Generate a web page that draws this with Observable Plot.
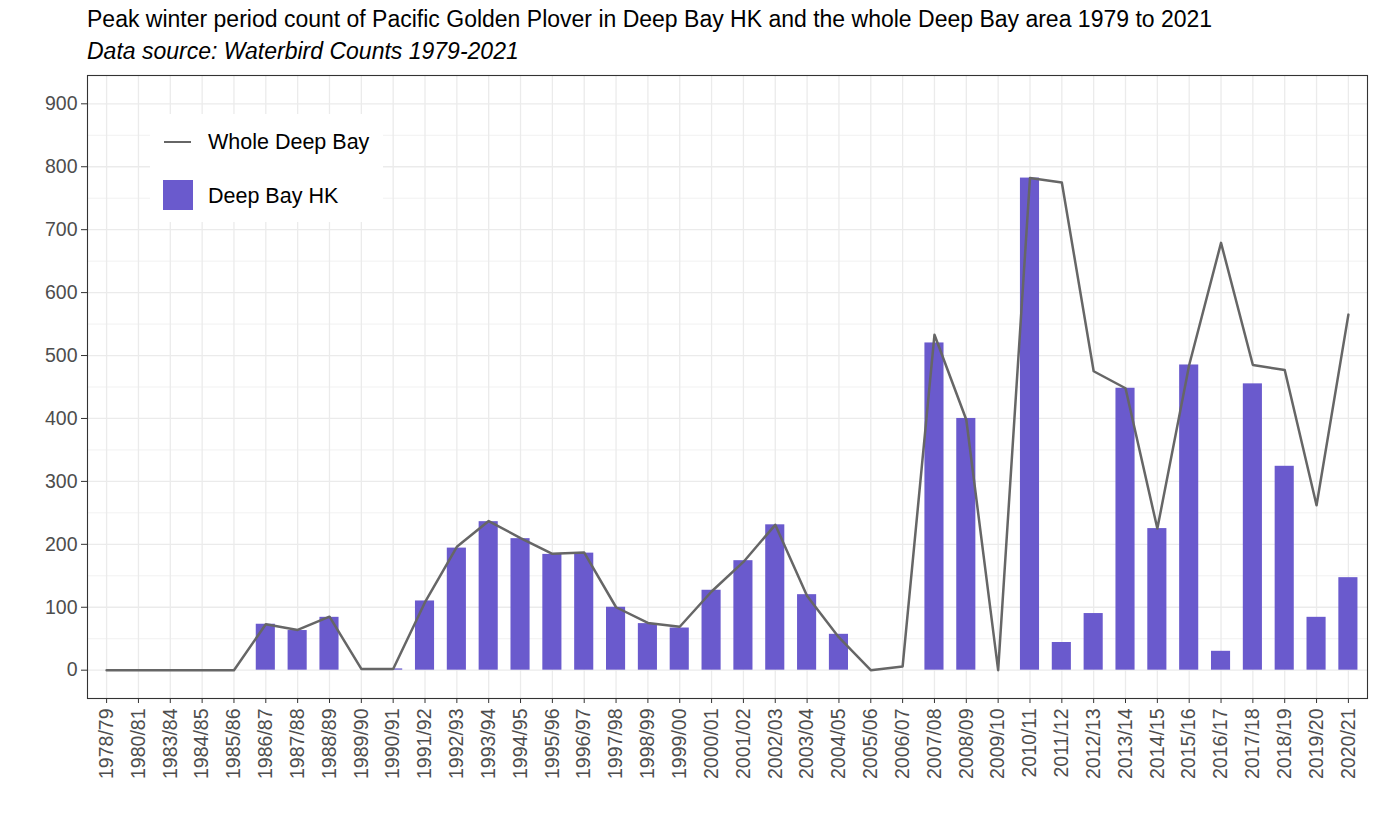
<!DOCTYPE html>
<html><head><meta charset="utf-8">
<script src="https://cdn.jsdelivr.net/npm/d3@7"></script>
<script src="https://cdn.jsdelivr.net/npm/@observablehq/plot@0.6"></script>
<style>
body{margin:0;background:#fff;font-family:"Liberation Sans",Arial,sans-serif;}
#wrap{position:relative;width:1378px;height:827px;overflow:hidden;}
#header{position:relative;height:70px;}
#title{position:absolute;left:87px;top:6px;font-size:23px;line-height:26px;color:#000;white-space:nowrap;}
#subtitle{position:absolute;left:87px;top:38px;font-size:23px;line-height:26px;font-style:italic;color:#000;white-space:nowrap;}
#legend{position:absolute;left:150px;top:114px;width:233px;height:108px;background:#fff;}
.lk{position:absolute;}
.lt{position:absolute;font-size:21.5px;line-height:24px;color:#000;white-space:nowrap;}
</style></head>
<body>
<div id="wrap">
  <div id="header">
    <div id="title">Peak winter period count of Pacific Golden Plover in Deep Bay HK and the whole Deep Bay area 1979 to 2021</div>
    <div id="subtitle">Data source: Waterbird Counts 1979-2021</div>
  </div>
  <div id="chart"></div>
  <div id="legend">
    <div class="lk" style="left:14px;top:27px;width:27px;height:2.4px;background:#666666;"></div>
    <div class="lt" style="left:58px;top:16px;">Whole Deep Bay</div>
    <div class="lk" style="left:13px;top:66px;width:30px;height:30px;background:#6A5ACD;"></div>
    <div class="lt" style="left:58px;top:70px;">Deep Bay HK</div>
  </div>
</div>
<script>
const seasons = ["1978/79","1980/81","1983/84","1984/85","1985/86","1986/87","1987/88","1988/89","1989/90","1990/91",
  "1991/92","1992/93","1993/94","1994/95","1995/96","1996/97","1997/98","1998/99","1999/00","2000/01",
  "2001/02","2002/03","2003/04","2004/05","2005/06","2006/07","2007/08","2008/09","2009/10","2010/11",
  "2011/12","2012/13","2013/14","2014/15","2015/16","2016/17","2017/18","2018/19","2019/20","2020/21"];
const deepBayHK = [0,0,0,0,0,73,63,84,0,2,
  110,194,236,209,184,186,100,74,67,127,
  174,231,120,57,0,0,520,400,0,782,
  44,90,448,225,485,30,455,324,84,147];
const wholeDeepBay = [0,0,0,0,0,73,64,85,2,2,
  108,196,237,210,185,187,100,75,69,125,
  172,231,118,52,0,6,533,398,0,782,
  775,475,448,225,485,679,485,477,262,565];
const yTicks = [0,100,200,300,400,500,600,700,800,900];
const yMinor = [50,150,250,350,450,550,650,750,850];

const data = seasons.map((s, i) => ({season: s, hk: deepBayHK[i], whole: wholeDeepBay[i]}));

const chart = Plot.plot({
  width: 1378,
  height: 757,
  marginTop: 5,
  marginBottom: 129,
  marginLeft: 87,
  marginRight: 11,
  style: {fontFamily: "'Liberation Sans', Arial, sans-serif", fontSize: "19.5px", background: "#fff"},
  x: {domain: seasons, paddingInner: 0.4, paddingOuter: 0.3, label: null},
  y: {domain: [-45, 945], label: null},
  marks: [
    Plot.gridY(yMinor, {stroke: "#ebebeb", strokeOpacity: 1, strokeWidth: 0.7}),
    Plot.gridY(yTicks, {stroke: "#ebebeb", strokeOpacity: 1, strokeWidth: 1.3}),
    Plot.gridX(seasons, {stroke: "#ebebeb", strokeOpacity: 1, strokeWidth: 1.3}),
    Plot.barY(data, {x: "season", y: "hk", fill: "#6A5ACD"}),
    Plot.lineY(data, {x: "season", y: "whole", stroke: "#666666", strokeWidth: 2.5}),
    Plot.frame({stroke: "#333333", strokeWidth: 1.1}),
    Plot.axisY(yTicks, {stroke: "#333333", fill: "#4d4d4d", tickSize: 6, tickPadding: 4, fontSize: 19.5}),
    Plot.axisX(seasons, {stroke: "#333333", fill: "#4d4d4d", tickSize: 5, tickPadding: 5, tickRotate: -90, fontSize: 19.5})
  ]
});
document.getElementById("chart").appendChild(chart);
</script>
</body></html>
